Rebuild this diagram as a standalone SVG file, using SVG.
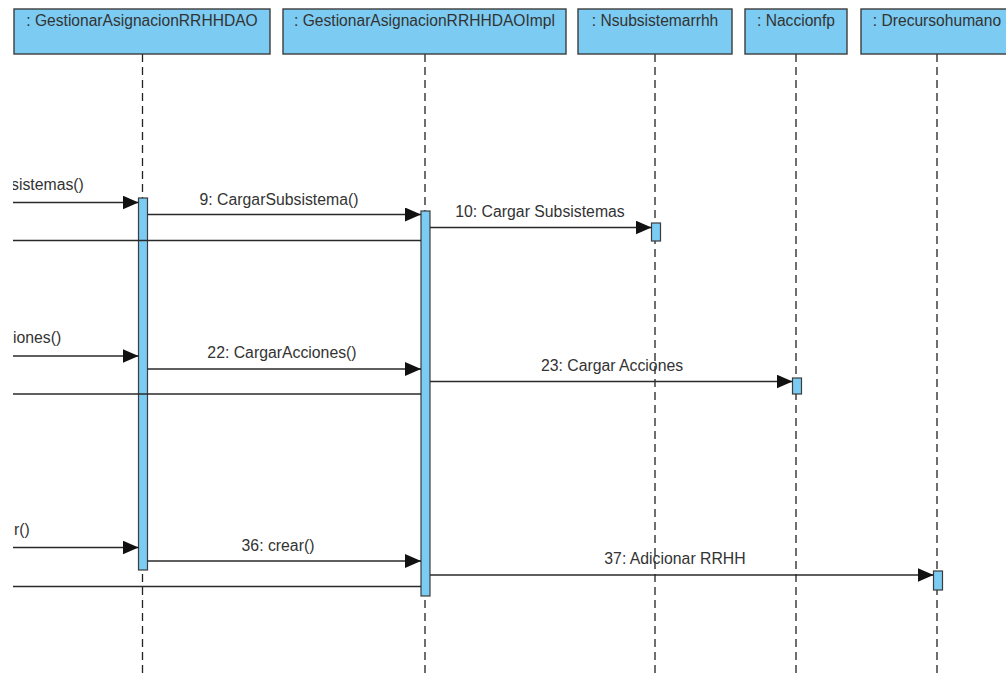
<svg xmlns="http://www.w3.org/2000/svg" width="1006" height="673" viewBox="0 0 1006 673">
<style>
.hdr{fill:#7ccbf2;stroke:#3c3c3c;stroke-width:1.4}
.hdrtxt{font-family:"Liberation Sans",Arial,sans-serif;font-size:15.6px;fill:#333;text-anchor:middle}
.life{stroke:#222;stroke-width:1.3;stroke-dasharray:8,5;fill:none}
.act{fill:#7ccbf2;stroke:#3c3c3c;stroke-width:1.2}
.msg{stroke:#2a2a2a;stroke-width:1.4;fill:none}
.call{marker-end:url(#arr)}
.lbl{font-family:"Liberation Sans",Arial,sans-serif;font-size:15.8px;fill:#333;text-anchor:middle}
.lblL{font-family:"Liberation Sans",Arial,sans-serif;font-size:15.8px;fill:#333}
</style>
<defs>
<marker id="arr" markerUnits="userSpaceOnUse" markerWidth="16" markerHeight="15" refX="16" refY="7" orient="auto">
<path d="M0,0 L16,7 L0,14 z" fill="#111"/>
</marker>
<clipPath id="clipL"><rect x="13" y="0" width="993" height="673"/></clipPath>
</defs>
<rect x="0" y="0" width="1006" height="673" fill="#fff"/>

<g id="lifelines">
<line class="life" x1="142.5" y1="54" x2="142.5" y2="673"/>
<line class="life" x1="425" y1="54" x2="425" y2="673"/>
<line class="life" x1="655" y1="54" x2="655" y2="673"/>
<line class="life" x1="796" y1="54" x2="796" y2="673"/>
<line class="life" x1="937" y1="54" x2="937" y2="673"/>
</g>

<g id="node-dao">
<rect class="hdr" x="14" y="9" width="256" height="45"/>
<text class="hdrtxt" x="142" y="26">: GestionarAsignacionRRHHDAO</text>
<rect class="act" x="138.5" y="198" width="9" height="372"/>
</g>
<g id="node-daoimpl">
<rect class="hdr" x="283" y="9" width="283" height="45"/>
<text class="hdrtxt" x="424.5" y="26">: GestionarAsignacionRRHHDAOImpl</text>
<rect class="act" x="421" y="211" width="9" height="385"/>
</g>
<g id="node-nsubsistemarrhh">
<rect class="hdr" x="578" y="9" width="154" height="45"/>
<text class="hdrtxt" x="655" y="26">: Nsubsistemarrhh</text>
<rect class="act" x="651.5" y="223" width="9" height="18"/>
</g>
<g id="node-naccionfp">
<rect class="hdr" x="745" y="9" width="102" height="45"/>
<text class="hdrtxt" x="796" y="26">: Naccionfp</text>
<rect class="act" x="792.5" y="378" width="9" height="16"/>
</g>
<g id="node-drecursohumano">
<rect class="hdr" x="861" y="9" width="152" height="45"/>
<text class="hdrtxt" x="937" y="26">: Drecursohumano</text>
<rect class="act" x="933.5" y="571" width="9" height="19"/>
</g>

<g id="connectors">
<line class="msg call" x1="13" y1="202.5" x2="138.5" y2="202.5"/>
<line class="msg call" x1="147.5" y1="214.5" x2="421" y2="214.5"/>
<line class="msg call" x1="430" y1="227.5" x2="651.5" y2="227.5"/>
<line class="msg" x1="13" y1="240.5" x2="421" y2="240.5"/>

<line class="msg call" x1="13" y1="356" x2="138.5" y2="356"/>
<line class="msg call" x1="147.5" y1="369" x2="421" y2="369"/>
<line class="msg call" x1="430" y1="381.5" x2="792.5" y2="381.5"/>
<line class="msg" x1="13" y1="394" x2="421" y2="394"/>

<line class="msg call" x1="13" y1="547.5" x2="138.5" y2="547.5"/>
<line class="msg call" x1="147.5" y1="561" x2="421" y2="561"/>
<line class="msg call" x1="430" y1="575" x2="933.5" y2="575"/>
<line class="msg" x1="13" y1="586.5" x2="421" y2="586.5"/>
</g>

<g id="labels">
<g clip-path="url(#clipL)">
<text class="lblL" x="11" y="190">sistemas()</text>
<text class="lblL" x="13" y="343">iones()</text>
<text class="lblL" x="14" y="535">r()</text>
</g>
<text class="lbl" x="279" y="205">9: CargarSubsistema()</text>
<text class="lbl" x="540" y="217">10: Cargar Subsistemas</text>
<text class="lbl" x="282" y="358">22: CargarAcciones()</text>
<text class="lbl" x="612" y="371">23: Cargar Acciones</text>
<text class="lbl" x="278" y="551">36: crear()</text>
<text class="lbl" x="675" y="564">37: Adicionar RRHH</text>
</g>
</svg>
